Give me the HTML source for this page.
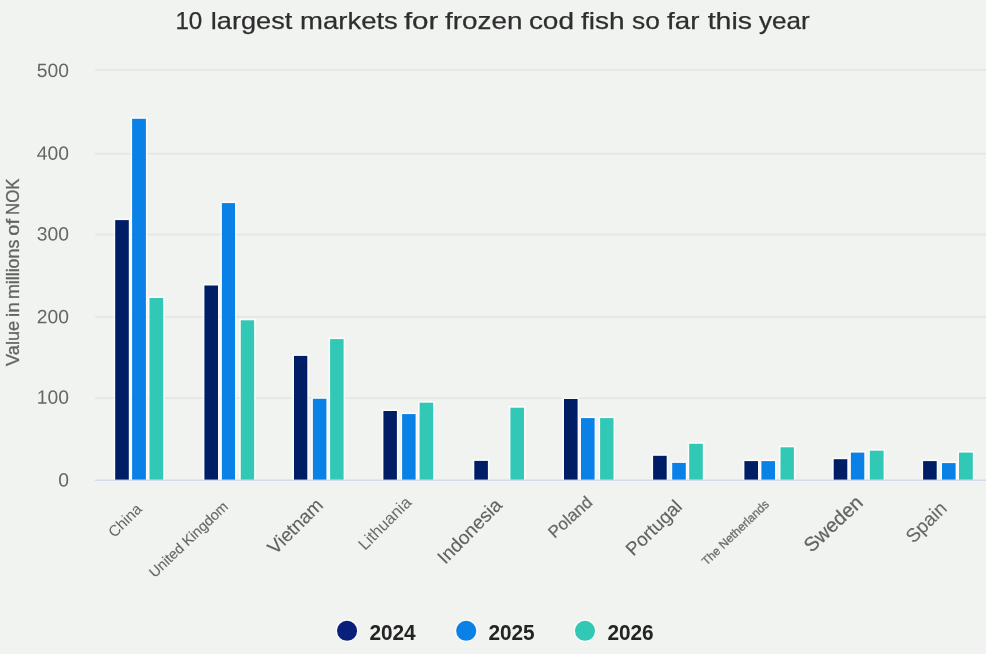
<!DOCTYPE html>
<html lang="en"><head><meta charset="utf-8"><title>10 largest markets for frozen cod fish so far this year</title>
<style>
html,body{margin:0;padding:0;background:#f0f3f0;}
body{width:986px;height:654px;overflow:hidden;}
svg{display:block;}
text{font-family:"Liberation Sans",Arial,sans-serif;}
</style></head><body>
<svg width="986" height="654" viewBox="0 0 986 654">
<rect width="986" height="654" fill="#f0f3f0"/>
<rect x="95" y="69.1" width="891" height="1.6" fill="#e3e6e3"/>
<rect x="95" y="152.9" width="891" height="1.6" fill="#e3e6e3"/>
<rect x="95" y="233.8" width="891" height="1.6" fill="#e3e6e3"/>
<rect x="95" y="316.1" width="891" height="1.6" fill="#e3e6e3"/>
<rect x="95" y="397.4" width="891" height="1.6" fill="#e3e6e3"/>
<rect x="113.6" y="218.5" width="16.8" height="261.7" fill="#ffffff" fill-opacity="0.7"/>
<rect x="130.5" y="117.2" width="17.0" height="363.0" fill="#ffffff" fill-opacity="0.7"/>
<rect x="147.9" y="296.4" width="16.9" height="183.8" fill="#ffffff" fill-opacity="0.7"/>
<rect x="202.8" y="283.9" width="16.8" height="196.3" fill="#ffffff" fill-opacity="0.7"/>
<rect x="220.3" y="201.5" width="16.3" height="278.7" fill="#ffffff" fill-opacity="0.7"/>
<rect x="239.2" y="318.7" width="16.5" height="161.5" fill="#ffffff" fill-opacity="0.7"/>
<rect x="292.4" y="354.3" width="16.5" height="125.9" fill="#ffffff" fill-opacity="0.7"/>
<rect x="311.3" y="397.2" width="16.7" height="83.0" fill="#ffffff" fill-opacity="0.7"/>
<rect x="328.5" y="337.5" width="16.7" height="142.7" fill="#ffffff" fill-opacity="0.7"/>
<rect x="381.8" y="409.4" width="16.7" height="70.8" fill="#ffffff" fill-opacity="0.7"/>
<rect x="400.5" y="412.5" width="16.7" height="67.7" fill="#ffffff" fill-opacity="0.7"/>
<rect x="418.0" y="401.1" width="16.8" height="79.1" fill="#ffffff" fill-opacity="0.7"/>
<rect x="472.7" y="459.3" width="16.8" height="20.9" fill="#ffffff" fill-opacity="0.7"/>
<rect x="508.8" y="406.1" width="16.8" height="74.1" fill="#ffffff" fill-opacity="0.7"/>
<rect x="562.4" y="397.4" width="16.8" height="82.8" fill="#ffffff" fill-opacity="0.7"/>
<rect x="579.4" y="416.5" width="16.8" height="63.7" fill="#ffffff" fill-opacity="0.7"/>
<rect x="598.5" y="416.5" width="16.6" height="63.7" fill="#ffffff" fill-opacity="0.7"/>
<rect x="651.5" y="454.2" width="16.8" height="26.0" fill="#ffffff" fill-opacity="0.7"/>
<rect x="670.6" y="461.3" width="16.8" height="18.9" fill="#ffffff" fill-opacity="0.7"/>
<rect x="687.6" y="442.2" width="16.8" height="38.0" fill="#ffffff" fill-opacity="0.7"/>
<rect x="742.8" y="459.5" width="16.8" height="20.7" fill="#ffffff" fill-opacity="0.7"/>
<rect x="759.8" y="459.5" width="16.8" height="20.7" fill="#ffffff" fill-opacity="0.7"/>
<rect x="778.9" y="445.7" width="16.6" height="34.5" fill="#ffffff" fill-opacity="0.7"/>
<rect x="832.1" y="457.6" width="16.8" height="22.6" fill="#ffffff" fill-opacity="0.7"/>
<rect x="849.3" y="451.0" width="16.6" height="29.2" fill="#ffffff" fill-opacity="0.7"/>
<rect x="868.2" y="449.1" width="17.0" height="31.1" fill="#ffffff" fill-opacity="0.7"/>
<rect x="921.5" y="459.5" width="16.8" height="20.7" fill="#ffffff" fill-opacity="0.7"/>
<rect x="940.4" y="461.5" width="16.8" height="18.7" fill="#ffffff" fill-opacity="0.7"/>
<rect x="957.4" y="451.0" width="17.0" height="29.2" fill="#ffffff" fill-opacity="0.7"/>
<rect x="95" y="479.55" width="891" height="1.3" fill="#d0d7ea"/>
<rect x="115.2" y="220.1" width="13.6" height="259.5" fill="#001e66"/>
<rect x="132.1" y="118.8" width="13.8" height="360.8" fill="#0a81e6"/>
<rect x="149.5" y="298.0" width="13.7" height="181.6" fill="#31c8b6"/>
<rect x="204.4" y="285.5" width="13.6" height="194.1" fill="#001e66"/>
<rect x="221.9" y="203.1" width="13.1" height="276.5" fill="#0a81e6"/>
<rect x="240.8" y="320.3" width="13.3" height="159.3" fill="#31c8b6"/>
<rect x="294.0" y="355.9" width="13.3" height="123.7" fill="#001e66"/>
<rect x="312.9" y="398.8" width="13.5" height="80.8" fill="#0a81e6"/>
<rect x="330.1" y="339.1" width="13.5" height="140.5" fill="#31c8b6"/>
<rect x="383.4" y="411.0" width="13.5" height="68.6" fill="#001e66"/>
<rect x="402.1" y="414.1" width="13.5" height="65.5" fill="#0a81e6"/>
<rect x="419.6" y="402.7" width="13.6" height="76.9" fill="#31c8b6"/>
<rect x="474.3" y="460.9" width="13.6" height="18.7" fill="#001e66"/>
<rect x="510.4" y="407.7" width="13.6" height="71.9" fill="#31c8b6"/>
<rect x="564.0" y="399.0" width="13.6" height="80.6" fill="#001e66"/>
<rect x="581.0" y="418.1" width="13.6" height="61.5" fill="#0a81e6"/>
<rect x="600.1" y="418.1" width="13.4" height="61.5" fill="#31c8b6"/>
<rect x="653.1" y="455.8" width="13.6" height="23.8" fill="#001e66"/>
<rect x="672.2" y="462.9" width="13.6" height="16.7" fill="#0a81e6"/>
<rect x="689.2" y="443.8" width="13.6" height="35.8" fill="#31c8b6"/>
<rect x="744.4" y="461.1" width="13.6" height="18.5" fill="#001e66"/>
<rect x="761.4" y="461.1" width="13.6" height="18.5" fill="#0a81e6"/>
<rect x="780.5" y="447.3" width="13.4" height="32.3" fill="#31c8b6"/>
<rect x="833.7" y="459.2" width="13.6" height="20.4" fill="#001e66"/>
<rect x="850.9" y="452.6" width="13.4" height="27.0" fill="#0a81e6"/>
<rect x="869.8" y="450.7" width="13.8" height="28.9" fill="#31c8b6"/>
<rect x="923.1" y="461.1" width="13.6" height="18.5" fill="#001e66"/>
<rect x="942.0" y="463.1" width="13.6" height="16.5" fill="#0a81e6"/>
<rect x="959.0" y="452.6" width="13.8" height="27.0" fill="#31c8b6"/>
<text transform="translate(69.0,77.08) rotate(0.05)" text-anchor="end" font-size="19.3" fill="#666666">500</text>
<text transform="translate(69.0,159.68) rotate(0.05)" text-anchor="end" font-size="19.3" fill="#666666">400</text>
<text transform="translate(69.0,240.53) rotate(0.05)" text-anchor="end" font-size="19.3" fill="#666666">300</text>
<text transform="translate(69.0,323.18) rotate(0.05)" text-anchor="end" font-size="19.3" fill="#666666">200</text>
<text transform="translate(69.0,403.78) rotate(0.05)" text-anchor="end" font-size="19.3" fill="#666666">100</text>
<text transform="translate(69.0,486.48) rotate(0.05)" text-anchor="end" font-size="19.3" fill="#666666">0</text>
<text transform="rotate(-90)" y="18.6" font-size="17.5" fill="#636363" stroke="#636363" stroke-width="0.3"><tspan x="-366.0" textLength="45.20" lengthAdjust="spacingAndGlyphs">Value</tspan> <tspan x="-317.0" textLength="14.75" lengthAdjust="spacingAndGlyphs">in</tspan> <tspan x="-299.1" textLength="59.45" lengthAdjust="spacingAndGlyphs">millions</tspan> <tspan x="-235.8" textLength="16.83" lengthAdjust="spacingAndGlyphs">of</tspan> <tspan x="-215.0" textLength="36.48" lengthAdjust="spacingAndGlyphs">NOK</tspan></text>
<text y="29" font-size="24" fill="#2e2e2e" stroke="#2e2e2e" stroke-width="0.25"><tspan x="175.4" textLength="26.91" lengthAdjust="spacingAndGlyphs">10</tspan> <tspan x="210.8" textLength="81.54" lengthAdjust="spacingAndGlyphs">largest</tspan> <tspan x="300.1" textLength="97.72" lengthAdjust="spacingAndGlyphs">markets</tspan> <tspan x="403.9" textLength="34.45" lengthAdjust="spacingAndGlyphs">for</tspan> <tspan x="445.0" textLength="77.38" lengthAdjust="spacingAndGlyphs">frozen</tspan> <tspan x="528.9" textLength="45.08" lengthAdjust="spacingAndGlyphs">cod</tspan> <tspan x="581.0" textLength="43.58" lengthAdjust="spacingAndGlyphs">fish</tspan> <tspan x="632.0" textLength="27.78" lengthAdjust="spacingAndGlyphs">so</tspan> <tspan x="667.1" textLength="32.32" lengthAdjust="spacingAndGlyphs">far</tspan> <tspan x="707.7" textLength="44.41" lengthAdjust="spacingAndGlyphs">this</tspan> <tspan x="759.0" textLength="50.75" lengthAdjust="spacingAndGlyphs">year</tspan></text>
<text transform="translate(142.8,510.0) rotate(-45.0)" text-anchor="end" font-size="15.34" fill="#666666">China</text>
<text transform="translate(229.0,507.8) rotate(-43.5)" text-anchor="end" font-size="14.38" fill="#666666" stroke="#666666" stroke-width="0.15">United Kingdom</text>
<text transform="translate(324.3,506.2) rotate(-45.0)" text-anchor="end" font-size="19.05" fill="#606060" stroke="#606060" stroke-width="0.12">Vietnam</text>
<text transform="translate(412.4,503.5) rotate(-45.0)" text-anchor="end" font-size="16.52" fill="#6a6a6a">Lithuania</text>
<text transform="translate(503.2,506.2) rotate(-45.5)" text-anchor="end" font-size="19.05" fill="#606060" stroke="#606060" stroke-width="0.12">Indonesia</text>
<text transform="translate(593.4,503.8) rotate(-42.0)" text-anchor="end" font-size="16.87" fill="#686868" stroke="#686868" stroke-width="0.25">Poland</text>
<text transform="translate(683.3,507.7) rotate(-44.5)" text-anchor="end" font-size="18.82" fill="#606060" stroke="#606060" stroke-width="0.1">Portugal</text>
<text transform="translate(769.7,505.0) rotate(-44.0)" text-anchor="end" font-size="11.9" fill="#707070" stroke="#707070" stroke-width="0.3">The Netherlands</text>
<text transform="translate(864.2,504.1) rotate(-43.0)" text-anchor="end" font-size="19.97" fill="#636363" stroke="#636363" stroke-width="0.25">Sweden</text>
<text transform="translate(948.0,509.5) rotate(-45.0)" text-anchor="end" font-size="19.05" fill="#666666" stroke="#666666" stroke-width="0.1">Spain</text>
<circle cx="347.05" cy="630.8" r="10.05" fill="#08207a" stroke="#ffffff" stroke-opacity="0.7" stroke-width="2.4" paint-order="stroke"/>
<text transform="translate(369.4,639.6) scale(1.015,1.08)" font-size="20.5" font-weight="bold" fill="#242424">2024</text>
<circle cx="466.2" cy="630.8" r="10.05" fill="#0a81e6" stroke="#ffffff" stroke-opacity="0.7" stroke-width="2.4" paint-order="stroke"/>
<text transform="translate(488.4,639.6) scale(1.015,1.08)" font-size="20.5" font-weight="bold" fill="#242424">2025</text>
<circle cx="585.0" cy="630.8" r="10.05" fill="#31c8b6" stroke="#ffffff" stroke-opacity="0.7" stroke-width="2.4" paint-order="stroke"/>
<text transform="translate(607.4,639.6) scale(1.015,1.08)" font-size="20.5" font-weight="bold" fill="#242424">2026</text>
</svg>
</body></html>
